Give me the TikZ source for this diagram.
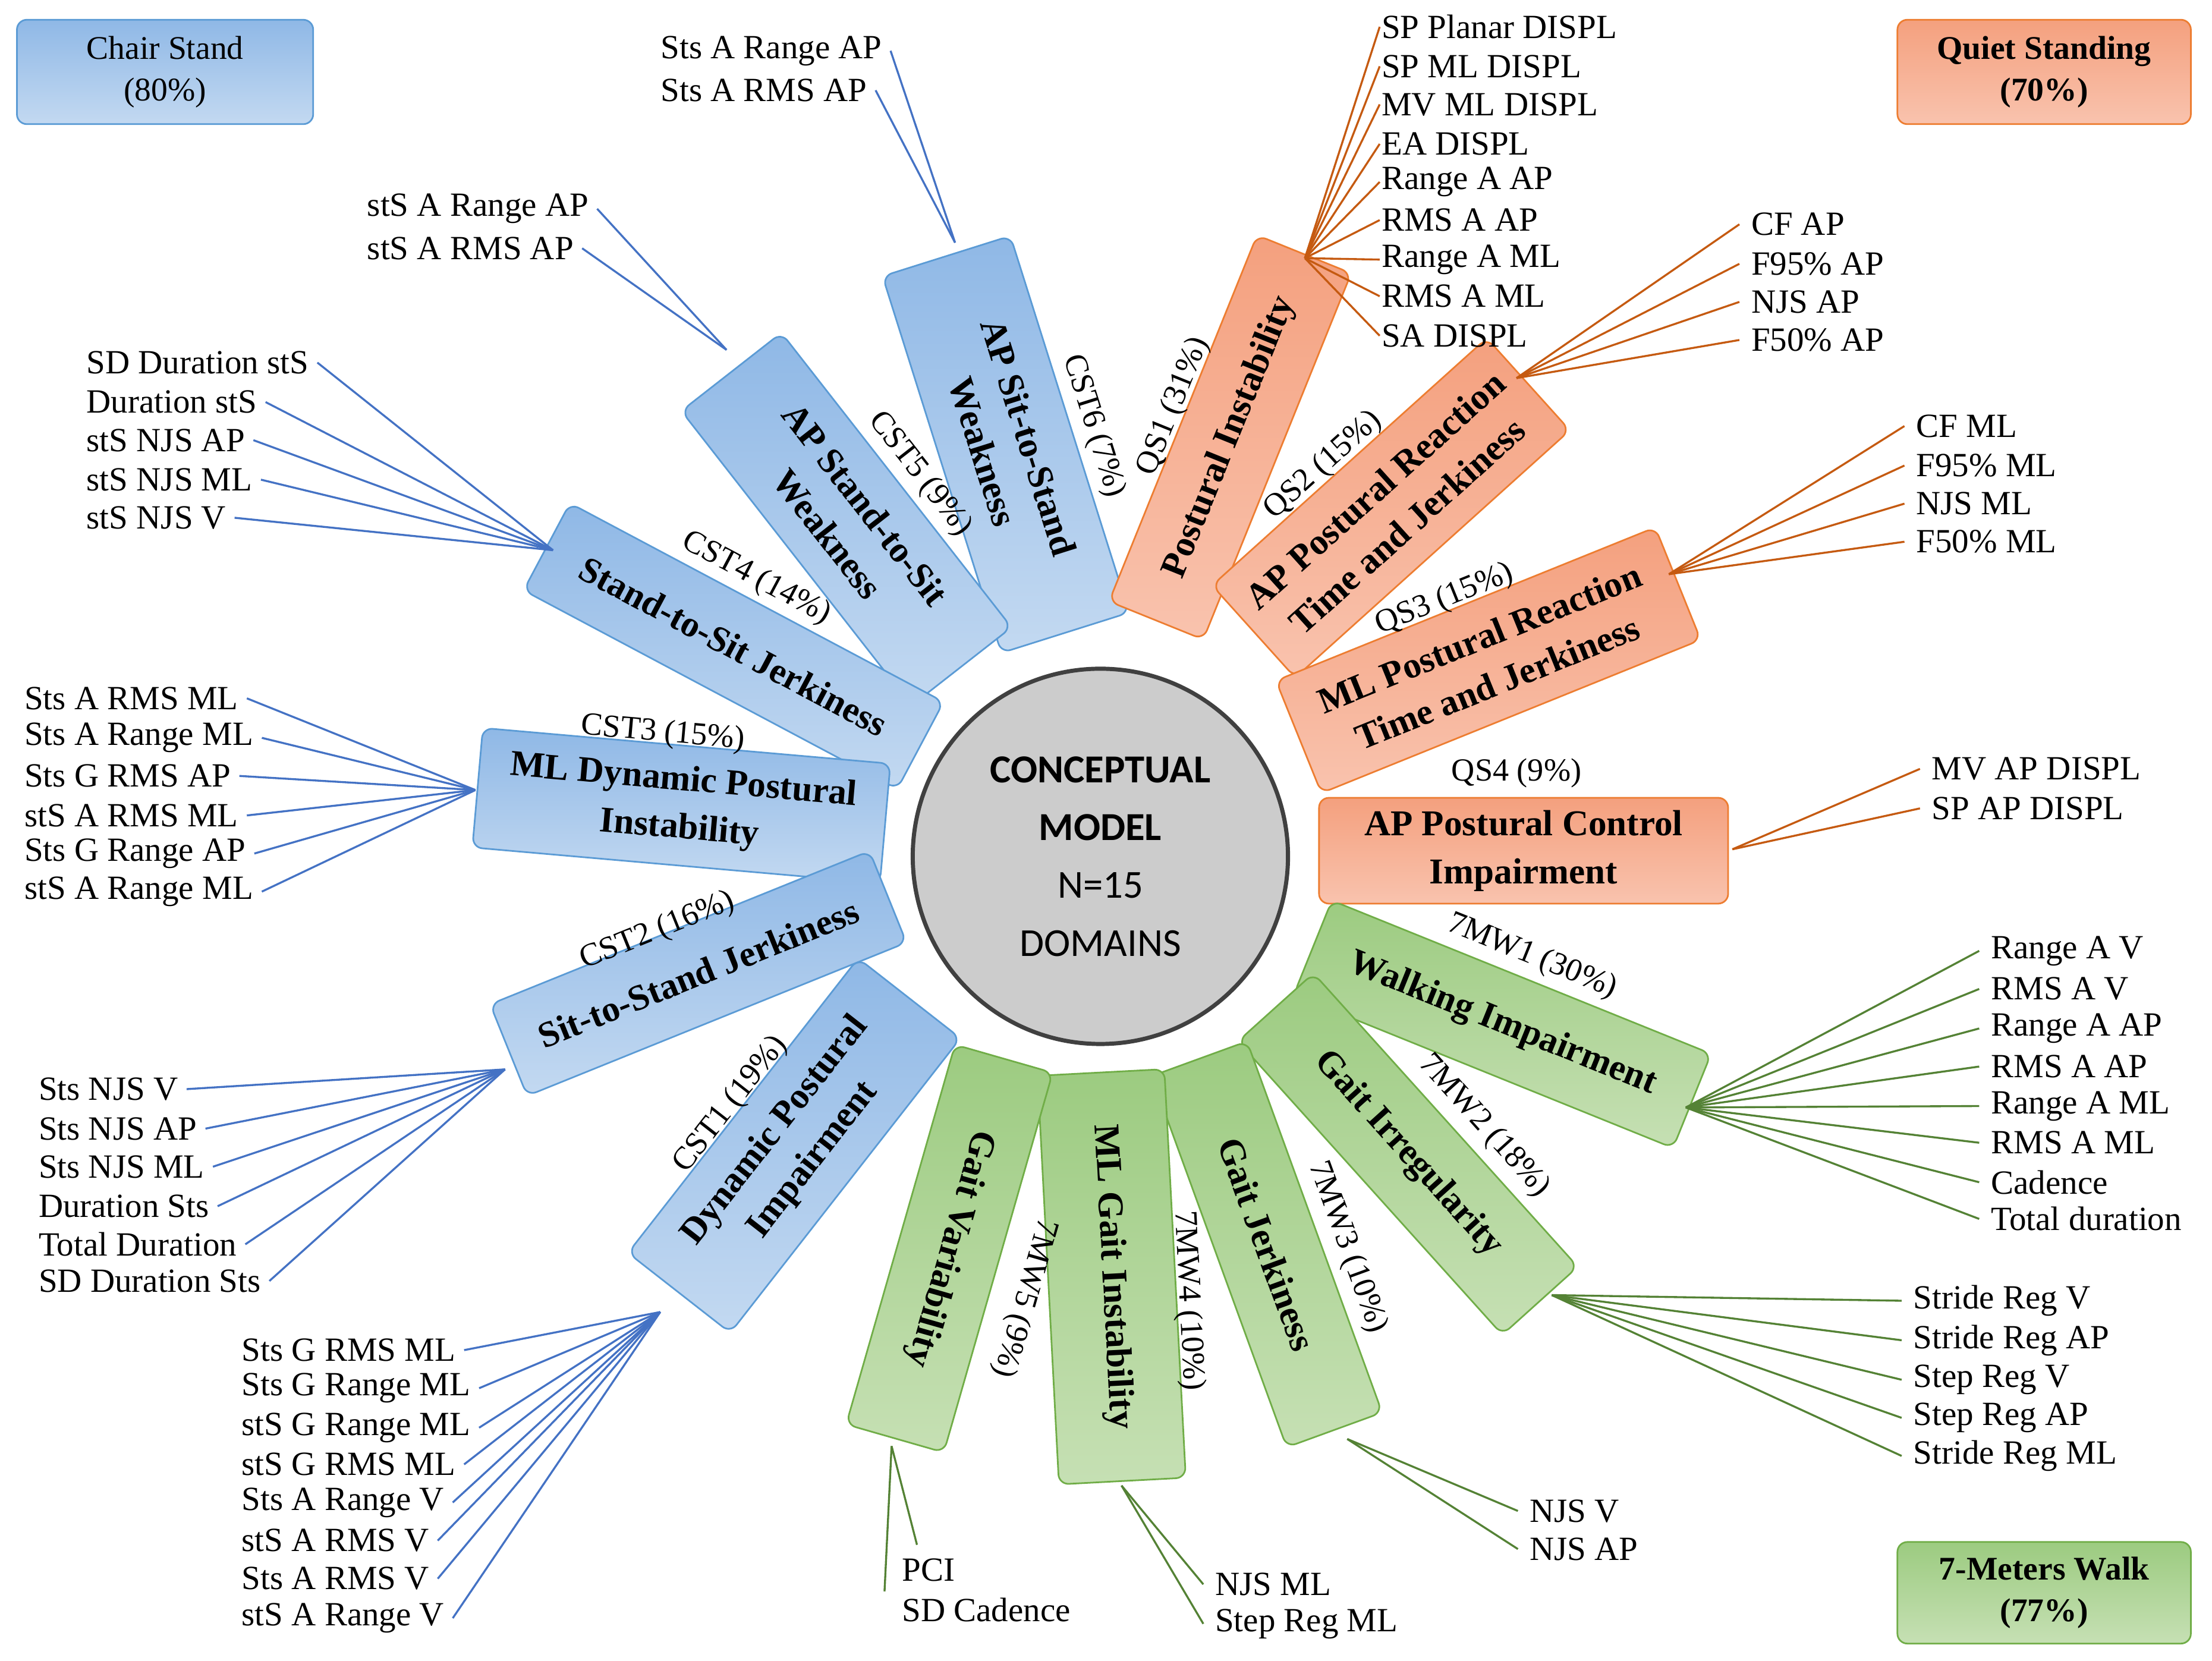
\documentclass[tikz,border=0pt]{standalone}
\usepackage{fontspec}
\setmainfont{Liberation Serif}
\newfontfamily\sansf{Carlito}
\definecolor{bF1}{HTML}{8FB8E6}\definecolor{bF2}{HTML}{C3D9F1}\definecolor{bD}{HTML}{5B9BD5}\definecolor{bL}{HTML}{4472C4}
\definecolor{oF1}{HTML}{F4A07E}\definecolor{oF2}{HTML}{F9C3AE}\definecolor{oD}{HTML}{ED7D31}\definecolor{oL}{HTML}{C55A11}
\definecolor{gF1}{HTML}{9CCB80}\definecolor{gF2}{HTML}{C6E0B4}\definecolor{gD}{HTML}{70AD47}\definecolor{gL}{HTML}{548235}
\begin{document}
\begin{tikzpicture}[x=0.03cm,y=-0.03cm,
 leaf/.style={font=\fontsize{20.5}{23}\selectfont,inner sep=1pt},
 lab/.style={font=\fontsize{19.5}{23}\selectfont,inner sep=1pt},
 bx/.style n args={3}{draw=#3,line width=1pt,rounded corners=6pt,align=center,
   font=\bfseries\fontsize{22}{29}\selectfont,minimum width=#1*0.03cm,minimum height=#2*0.03cm},
 lg/.style={font=\fontsize{20}{25}\selectfont},
 lgb/.style={font=\bfseries\fontsize{20}{25}\selectfont},
 bb/.style={top color=bF1,bottom color=bF2},
 ob/.style={top color=oF1,bottom color=oF2},
 gb/.style={top color=gF1,bottom color=gF2},
 bl/.style={bL,line width=1.2pt},
 ol/.style={oL,line width=1.2pt},
 gl/.style={gL,line width=1.2pt}]
\useasboundingbox (0,0) rectangle (1568,1177);
% legends
\node[bx={210}{74}{bD},bb,lg] (lg1) at (117,51) {Chair Stand\\(80\%)};
\node[bx={208}{74}{oD},ob,lgb] (lg2) at (1449,51) {Quiet Standing\\(70\%)};
\node[bx={208}{72}{gD},gb,lgb] (lg3) at (1449,1129) {7-Meters Walk\\(77\%)};
% circle
\node[circle,draw=black!75,line width=2.5pt,fill=black!20,minimum size=266*0.03cm,align=center,font=\sansf\fontsize{24}{35}\selectfont] (cm) at (780,607) {\textbf{CONCEPTUAL}\\\textbf{MODEL}\\N=15\\DOMAINS};
% blue boxes
\node[bx={280}{95}{bD},bb,rotate=-72.5] (c6) at (713,315) {AP Sit-to-Stand\\Weakness};
\node[lab,rotate=-72.5] (c6l) at (775,302) {CST6 (7\%)};
\node[bx={265}{90}{bD},bb,rotate=-52] (c5) at (600,368) {AP Stand-to-Sit\\Weakness};
\node[lab,rotate=-52] (c5l) at (652,336) {CST5 (9\%)};
\node[bx={300}{70}{bD},bb,rotate=-28] (c4) at (520,458) {Stand-to-Sit Jerkiness};
\node[lab,rotate=-28] (c4l) at (536,410) {CST4 (14\%)};
\node[bx={290}{85}{bD},bb,rotate=-5] (c3) at (483,571) {ML Dynamic Postural\\Instability};
\node[lab,rotate=-5] (c3l) at (470,520) {CST3 (15\%)};
\node[bx={290}{70}{bD},bb,rotate=22] (c2) at (495,690) {Sit-to-Stand Jerkiness};
\node[lab,rotate=22] (c2l) at (466,660) {CST2 (16\%)};
\node[bx={265}{92}{bD},bb,rotate=52] (c1) at (563,812) {Dynamic Postural\\Impairment};
\node[lab,rotate=52] (c1l) at (518,783) {CST1 (19\%)};
% orange boxes
\node[bx={280}{72}{oD},ob,rotate=68] (q1) at (872,310) {Postural Instability};
\node[lab,rotate=68] (q1l) at (832,288) {QS1 (31\%)};
\node[bx={262}{88}{oD},ob,rotate=42] (q2) at (986,360) {AP Postural Reaction\\Time and Jerkiness};
\node[lab,rotate=42] (q2l) at (938,330) {QS2 (15\%)};
\node[bx={290}{86}{oD},ob,rotate=22] (q3) at (1055,468) {ML Postural Reaction\\Time and Jerkiness};
\node[lab,rotate=22] (q3l) at (1024,425) {QS3 (15\%)};
\node[bx={290}{75}{oD},ob] (q4) at (1080,603) {AP Postural Control\\Impairment};
\node[lab] (q4l) at (1075,548) {QS4 (9\%)};
% green boxes
\node[bx={290}{72}{gD},gb,rotate=-22] (w1) at (1065,726) {Walking Impairment};
\node[lab,rotate=-22] (w1l) at (1086,678) {7MW1 (30\%)};
\node[bx={280}{72}{gD},gb,rotate=-48] (w2) at (998,818) {Gait Irregularity};
\node[lab,rotate=-48] (w2l) at (1052,798) {7MW2 (18\%)};
\node[bx={280}{72}{gD},gb,rotate=-70] (w3) at (898,882) {Gait Jerkiness};
\node[lab,rotate=-70] (w3l) at (955,884) {7MW3 (10\%)};
\node[bx={290}{90}{gD},gb,rotate=-87] (w4) at (788,905) {ML Gait Instability};
\node[lab,rotate=-87] (w4l) at (842,922) {7MW4 (10\%)};
\node[bx={280}{72}{gD},gb,rotate=-106] (w5) at (673,885) {Gait Variability};
\node[lab,rotate=-106] (w5l) at (726,920) {7MW5 (9\%)};
% convergence points
\coordinate (k6) at (677,172); \coordinate (k5) at (515,248); \coordinate (k4) at (392,390);
\coordinate (k3) at (337,560); \coordinate (k2) at (358,758); \coordinate (k1) at (468,930);
\coordinate (p1) at (925,183); \coordinate (p2) at (1075,268); \coordinate (p3) at (1183,407); \coordinate (p4) at (1228,602);
\coordinate (m1) at (1195,785); \coordinate (m2) at (1100,918); \coordinate (m3) at (955,1020); \coordinate (m4) at (795,1053); \coordinate (m5) at (632,1025);
% leaves left
\foreach \y/\t [count=\i] in {36/Sts A Range AP,64/Sts A RMS AP}{\node[leaf,anchor=west] (a6\i) at (467,\y) {\t}; \draw[bl] (k6) -- ([xshift=4pt]a6\i.east);}
\foreach \y/\t [count=\i] in {148/stS A Range AP,176/stS A RMS AP}{\node[leaf,anchor=west] (a5\i) at (259,\y) {\t}; \draw[bl] (k5) -- ([xshift=4pt]a5\i.east);}
\foreach \y/\t [count=\i] in {257/SD Duration stS,285/Duration stS,312/stS NJS AP,340/stS NJS ML,367/stS NJS V}{\node[leaf,anchor=west] (a4\i) at (60,\y) {\t}; \draw[bl] (k4) -- ([xshift=4pt]a4\i.east);}
\foreach \y/\t [count=\i] in {495/Sts A RMS ML,523/Sts A Range ML,550/Sts G RMS AP,578/stS A RMS ML,605/Sts G Range AP,632/stS A Range ML}{\node[leaf,anchor=west] (a3\i) at (16,\y) {\t}; \draw[bl] (k3) -- ([xshift=4pt]a3\i.east);}
\foreach \y/\t [count=\i] in {772/Sts NJS V,800/Sts NJS AP,827/Sts NJS ML,855/Duration Sts,882/Total Duration,908/SD Duration Sts}{\node[leaf,anchor=west] (a2\i) at (26,\y) {\t}; \draw[bl] (k2) -- ([xshift=4pt]a2\i.east);}
\foreach \y/\t [count=\i] in {957/Sts G RMS ML,984/Sts G Range ML,1012/stS G Range ML,1038/stS G RMS ML,1065/Sts A Range V,1092/stS A RMS V,1119/Sts A RMS V,1147/stS A Range V}{\node[leaf,anchor=west] (a1\i) at (170,\y) {\t}; \draw[bl] (k1) -- ([xshift=4pt]a1\i.east);}
% leaves right
\foreach \y/\t [count=\i] in {19/SP Planar DISPL,47/SP ML DISPL,74/MV ML DISPL,102/EA DISPL,129/Range A AP,156/RMS A AP,184/Range A ML,210/RMS A ML,238/SA DISPL}{\node[leaf,anchor=west] (b1\i) at (978,\y) {\t}; \draw[ol] (p1) -- (b1\i.west);}
\foreach \y/\t [count=\i] in {159/CF AP,187/F95\% AP,214/NJS AP,241/F50\% AP}{\node[leaf,anchor=west] (b2\i) at (1240,\y) {\t}; \draw[ol] (p2) -- ([xshift=-6pt]b2\i.west);}
\foreach \y/\t [count=\i] in {302/CF ML,330/F95\% ML,357/NJS ML,384/F50\% ML}{\node[leaf,anchor=west] (b3\i) at (1357,\y) {\t}; \draw[ol] (p3) -- ([xshift=-6pt]b3\i.west);}
\foreach \y/\t [count=\i] in {545/MV AP DISPL,573/SP AP DISPL}{\node[leaf,anchor=west] (b4\i) at (1368,\y) {\t}; \draw[ol] (p4) -- ([xshift=-6pt]b4\i.west);}
\foreach \y/\t [count=\i] in {674/Range A V,701/RMS A V,729/Range A AP,756/RMS A AP,784/Range A ML,810/RMS A ML,838/Cadence,864/Total duration}{\node[leaf,anchor=west] (g1\i) at (1410,\y) {\t}; \draw[gl] (m1) -- ([xshift=-6pt]g1\i.west);}
\foreach \y/\t [count=\i] in {922/Stride Reg V,950/Stride Reg AP,978/Step Reg V,1005/Step Reg AP,1032/Stride Reg ML}{\node[leaf,anchor=west] (g2\i) at (1355,\y) {\t}; \draw[gl] (m2) -- ([xshift=-6pt]g2\i.west);}
\foreach \y/\t [count=\i] in {1071/NJS V,1098/NJS AP}{\node[leaf,anchor=west] (g3\i) at (1083,\y) {\t}; \draw[gl] (m3) -- ([xshift=-6pt]g3\i.west);}
\foreach \y/\t [count=\i] in {1123/NJS ML,1151/Step Reg ML}{\node[leaf,anchor=west] (g4\i) at (860,\y) {\t}; \draw[gl] (m4) -- ([xshift=-6pt]g4\i.west);}
\node[leaf,anchor=west] (g51) at (638,1113) {PCI};
\node[leaf,anchor=west] (g52) at (638,1141) {SD Cadence};
\coordinate (e51) at (650,1095); \coordinate (e52) at (627,1128);
\draw[gl] (m5) -- (e51);
\draw[gl] (m5) -- (e52);
\end{tikzpicture}
\end{document}
